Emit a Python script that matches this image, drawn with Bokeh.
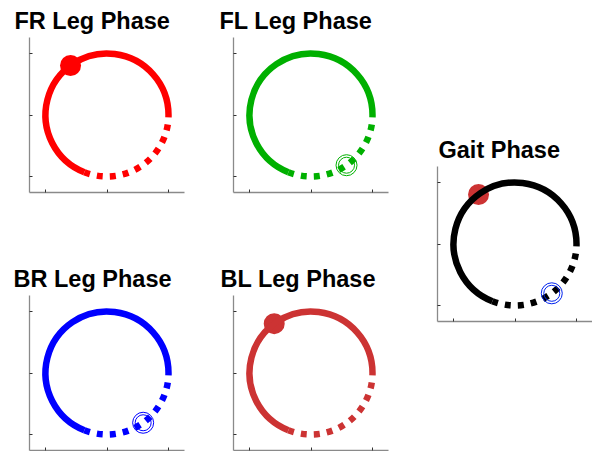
import numpy as np
from bokeh.plotting import figure
from bokeh.layouts import row, column
from bokeh.models import Spacer, FixedTicker, Range1d
from bokeh.embed import file_html
from bokeh.resources import INLINE

# ---- data ----
titles = ["FR Leg Phase", "FL Leg Phase", "BR Leg Phase", "BL Leg Phase", "Gait Phase"]
line_colors = ["#FF0000", "#00B000", "#0000FF", "#CC3333", "#000000"]
stance_end_phase = [0.69, 0.69, 0.69, 0.69, 0.69]      # solid part 0 -> this phase, dotted after
dot_phase = [0.351, None, None, 0.352, 0.351]           # filled marker position (phase)
dot_colors = ["#FF0000", None, None, "#CC3333", "#CC3333"]
ring_phase = [None, 0.848, 0.85, None, 0.852]            # double-ring marker position (phase)
ring_colors = [None, "#00B000", "#0000FF", None, "#0022EE"]
tick_values = [-1, 0, 1]
axis_lim = 1.26

FRAME = 155


def make_panel(i, border_left, border_right, border_top, border_bottom, title_offset):
    p = figure(frame_width=FRAME, frame_height=FRAME,
               x_range=Range1d(-axis_lim, axis_lim), y_range=Range1d(-axis_lim, axis_lim),
               output_backend="svg", toolbar_location=None,
               min_border_left=border_left, min_border_right=border_right,
               min_border_top=border_top, min_border_bottom=border_bottom,
               x_axis_location="below", y_axis_location="left")
    p.title.text = titles[i]
    p.title.text_font = "Liberation Sans"
    p.title.text_font_style = "bold"
    p.title.text_font_size = "23.5px"
    p.title.text_color = "#000000"
    p.title.align = "left"
    p.title.offset = title_offset
    p.title.standoff = 8
    p.outline_line_color = None
    p.grid.visible = False
    p.background_fill_color = "white"
    p.border_fill_color = "white"
    for ax in (p.xaxis[0], p.yaxis[0]):
        ax.ticker = FixedTicker(ticks=tick_values)
        ax.major_label_text_font_size = "1px"
        ax.major_label_text_color = None
        ax.major_label_standoff = 0
        ax.major_tick_in = 3
        ax.major_tick_out = 0
        ax.minor_tick_line_color = None
        ax.axis_line_color = "#8a8a8a"
        ax.axis_line_width = 1.3
        ax.major_tick_line_color = "#333333"

    col = line_colors[i]
    if dot_phase[i] is not None:
        a = 2 * np.pi * dot_phase[i]
        p.scatter([np.cos(a)], [np.sin(a)], size=21, marker="circle",
                  fill_color=dot_colors[i], line_color=None)
    end = 2 * np.pi * stance_end_phase[i]
    p.arc(x=[0], y=[0], radius=1, start_angle=0, end_angle=end,
          direction="anticlock", line_color=col, line_width=6.5, line_cap="butt")
    p.arc(x=[0], y=[0], radius=1, start_angle=end, end_angle=2 * np.pi,
          direction="anticlock", line_color=col, line_width=6.5, line_cap="butt",
          line_dash="6 7")
    if ring_phase[i] is not None:
        a = 2 * np.pi * ring_phase[i]
        for s in (21, 16):
            p.scatter([np.cos(a)], [np.sin(a)], size=s, marker="circle",
                      fill_color=None, line_color=ring_colors[i], line_width=1)
    return p


fr = make_panel(0, 29, 14, 37, 66, -15)
br = make_panel(2, 29, 14, 37, 1, -16)
fl = make_panel(1, 35, 14, 37, 66, -14)
bl = make_panel(3, 35, 14, 37, 1, -13)
gait = make_panel(4, 35, 0, 37, 3, 1)

layout = row(column(fr, br), column(fl, bl), column(Spacer(width=10, height=129), gait))

open("out.html", "w").write(file_html(layout, INLINE))
